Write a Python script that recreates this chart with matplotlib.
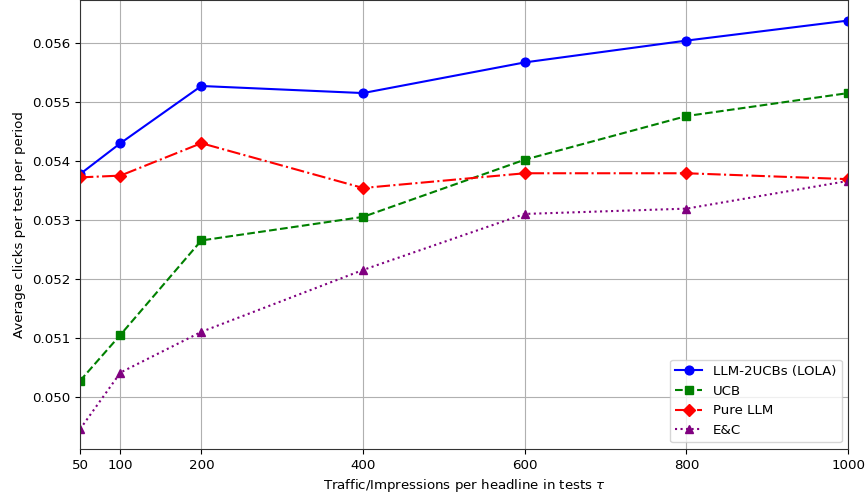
import matplotlib
matplotlib.use("Agg")
import matplotlib.pyplot as plt

x = [50, 100, 200, 400, 600, 800, 1000]
lola = [0.053775, 0.05430, 0.05527, 0.05515, 0.05567, 0.05604, 0.05638]
ucb = [0.05027, 0.05105, 0.05265, 0.05305, 0.05402, 0.05476, 0.05515]
pure_llm = [0.05372, 0.05375, 0.05430, 0.05354, 0.05379, 0.05379, 0.05369]
ec = [0.04945, 0.05041, 0.05110, 0.05215, 0.05310, 0.05319, 0.05366]
yticks = [0.050, 0.051, 0.052, 0.053, 0.054, 0.055, 0.056]

plt.rcParams['font.size'] = 9.6
fig = plt.figure(figsize=(8.67, 4.95), dpi=100)
ax = fig.add_axes([0.0923, 0.093, 0.886, 0.906])
ax.plot(x, lola, '-o', color='blue', lw=1.5, ms=6.3, label='LLM-2UCBs (LOLA)')
ax.plot(x, ucb, '--s', color='green', lw=1.5, ms=6.3, label='UCB')
ax.plot(x, pure_llm, '-.D', color='red', lw=1.5, ms=6.3, label='Pure LLM')
ax.plot(x, ec, ':^', color='purple', lw=1.5, ms=6.3, label='E&C')
ax.set_xlim(50, 1000)
ax.set_ylim(0.049114, 0.05672)
ax.set_xticks(x)
ax.set_yticks(yticks)
ax.set_yticklabels([f"{v:.3f}" for v in yticks])
ax.grid(True, color='#b0b0b0', lw=0.8)
for s in ax.spines.values():
    s.set_color('#333333')
ax.set_xlabel(r'Traffic/Impressions per headline in tests $\tau$')
ax.set_ylabel('Average clicks per test per period')
ax.legend(loc='lower right')
fig.savefig('out.png', dpi=100)
